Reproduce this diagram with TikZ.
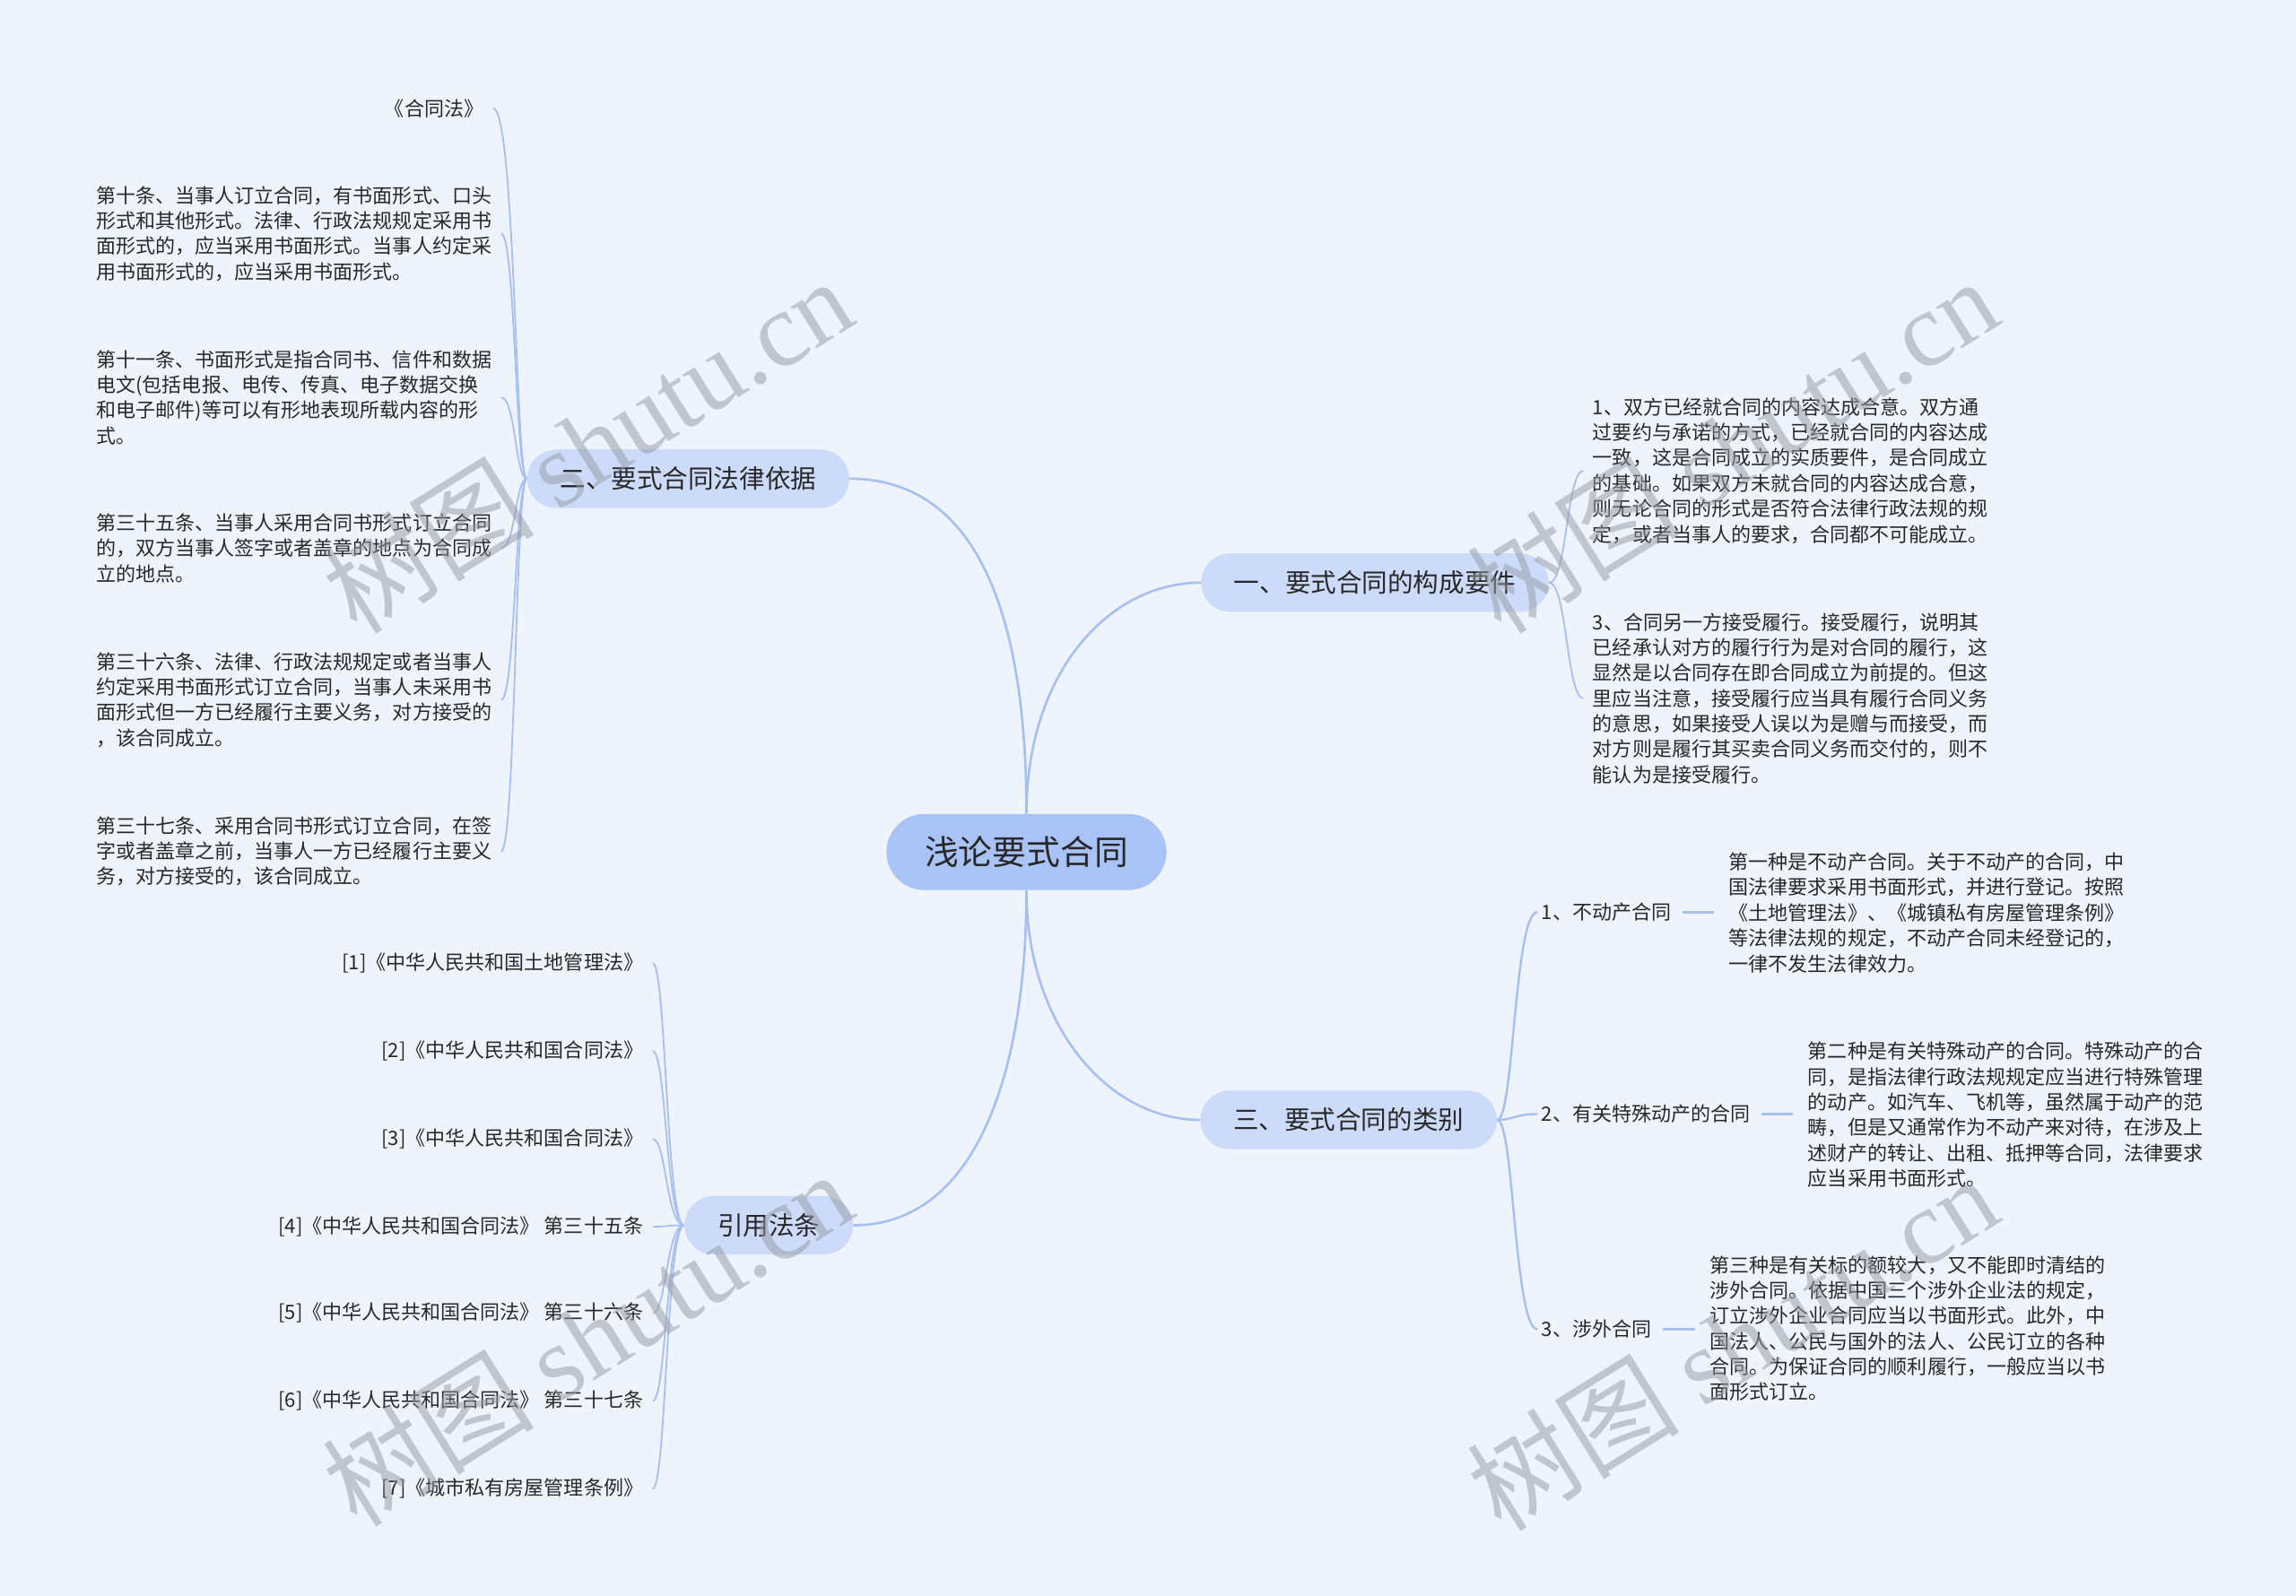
\documentclass[tikz,border=0pt]{standalone}
\usepackage{fontspec}
\setmainfont{Noto Sans CJK SC}
\newfontfamily\wmfont{Liberation Serif}
\definecolor{bgblue}{RGB}{238,243,252}
\definecolor{rootblue}{RGB}{170,195,247}
\definecolor{topicblue}{RGB}{204,219,249}
\definecolor{linkblue}{RGB}{168,192,240}
\definecolor{inkgray}{RGB}{40,40,40}
\definecolor{wmgray}{RGB}{150,154,162}
\begin{document}
\begin{tikzpicture}[x=0.8pt,y=-0.8pt,
    mainlink/.style={draw=linkblue,line width=1.3pt},
    link/.style={draw=linkblue,line width=0.9pt},
    stub/.style={draw=linkblue,line width=1.6pt,shorten <=4pt,shorten >=6pt},
    rootbox/.style={fill=rootblue,rounded corners=20.8pt,minimum height=41.6pt,inner xsep=21pt,text=inkgray,font=\fontsize{18.5}{22}\selectfont},
    topicbox/.style={fill=topicblue,rounded corners=16pt,minimum height=32pt,inner xsep=18pt,text=inkgray,font=\fontsize{14}{17}\selectfont},
    leaf/.style={inner sep=2pt,align=left,text=inkgray,font=\fontsize{10.8}{13.9}\selectfont},
    wmark/.style={rotate=32,text=wmgray,opacity=0.5,font=\fontsize{58}{58}\selectfont}]
    \path[use as bounding box,fill=bgblue] (0,0) rectangle (1568,1090);

    \node[rootbox] (root) at (701,582) {浅论要式合同};
    \node[topicbox] (basis) at (470,327) {二、要式合同法律依据};
    \node[topicbox] (elems) at (939,398) {一、要式合同的构成要件};
    \node[topicbox] (kinds) at (921,765) {三、要式合同的类别};
    \node[topicbox] (cites) at (525,837) {引用法条};

    \draw[mainlink] (root.north) .. controls +(0,-140) and +(85,0) .. (basis.east);
    \draw[mainlink] (root.north) .. controls +(0,-96) and +(-63,0) .. (elems.west);
    \draw[mainlink] (root.south) .. controls +(0,92) and +(-63,0) .. (kinds.west);
    \draw[mainlink] (root.south) .. controls +(0,122) and +(85,0) .. (cites.east);

    \coordinate (bl) at (352,0);
    \node[leaf,anchor=east] (law0) at (333,74) {《合同法》};
    \node[leaf,anchor=west] (law1) at (63,159.5) {第十条、当事人订立合同，有书面形式、口头\\形式和其他形式。法律、行政法规规定采用书\\面形式的，应当采用书面形式。当事人约定采\\用书面形式的，应当采用书面形式。};
    \node[leaf,anchor=west] (law2) at (63,271.5) {第十一条、书面形式是指合同书、信件和数据\\电文(包括电报、电传、传真、电子数据交换\\和电子邮件)等可以有形地表现所载内容的形\\式。};
    \node[leaf,anchor=west] (law3) at (63,374.5) {第三十五条、当事人采用合同书形式订立合同\\的，双方当事人签字或者盖章的地点为合同成\\立的地点。};
    \node[leaf,anchor=west] (law4) at (63,478) {第三十六条、法律、行政法规规定或者当事人\\约定采用书面形式订立合同，当事人未采用书\\面形式但一方已经履行主要义务，对方接受的\\，该合同成立。};
    \node[leaf,anchor=west] (law5) at (63,581.5) {第三十七条、采用合同书形式订立合同，在签\\字或者盖章之前，当事人一方已经履行主要义\\务，对方接受的，该合同成立。};
    \draw[link] (basis.west) .. controls (basis.west -| bl) and (law0.east -| bl) .. ([xshift=3pt]law0.east);
    \draw[link] (basis.west) .. controls (basis.west -| bl) and (law1.east -| bl) .. ([xshift=3pt]law1.east);
    \draw[link] (basis.west) .. controls (basis.west -| bl) and (law2.east -| bl) .. ([xshift=3pt]law2.east);
    \draw[link] (basis.west) .. controls (basis.west -| bl) and (law3.east -| bl) .. ([xshift=3pt]law3.east);
    \draw[link] (basis.west) .. controls (basis.west -| bl) and (law4.east -| bl) .. ([xshift=3pt]law4.east);
    \draw[link] (basis.west) .. controls (basis.west -| bl) and (law5.east -| bl) .. ([xshift=3pt]law5.east);

    \coordinate (br) at (1070,0);
    \node[leaf,anchor=west] (elem1) at (1085,321.5) {1、双方已经就合同的内容达成合意。双方通\\过要约与承诺的方式，已经就合同的内容达成\\一致，这是合同成立的实质要件，是合同成立\\的基础。如果双方未就合同的内容达成合意，\\则无论合同的形式是否符合法律行政法规的规\\定，或者当事人的要求，合同都不可能成立。};
    \node[leaf,anchor=west] (elem3) at (1085,477) {3、合同另一方接受履行。接受履行，说明其\\已经承认对方的履行行为是对合同的履行，这\\显然是以合同存在即合同成立为前提的。但这\\里应当注意，接受履行应当具有履行合同义务\\的意思，如果接受人误以为是赠与而接受，而\\对方则是履行其买卖合同义务而交付的，则不\\能认为是接受履行。};
    \draw[link] (elems.east) .. controls (elems.east -| br) and (elem1.west -| br) .. ([xshift=-3pt]elem1.west);
    \draw[link] (elems.east) .. controls (elems.east -| br) and (elem3.west -| br) .. ([xshift=-3pt]elem3.west);

    \coordinate (bk) at (1034,0);
    \node[leaf,anchor=west] (kind1) at (1050,623) {1、不动产合同};
    \node[leaf,anchor=west] (kind2) at (1050,761) {2、有关特殊动产的合同};
    \node[leaf,anchor=west] (kind3) at (1050,908) {3、涉外合同};
    \node[leaf,anchor=west] (kindtxt1) at (1178,623.5) {第一种是不动产合同。关于不动产的合同，中\\国法律要求采用书面形式，并进行登记。按照\\《土地管理法》、《城镇私有房屋管理条例》\\等法律法规的规定，不动产合同未经登记的，\\一律不发生法律效力。};
    \node[leaf,anchor=west] (kindtxt2) at (1232,761.5) {第二种是有关特殊动产的合同。特殊动产的合\\同，是指法律行政法规规定应当进行特殊管理\\的动产。如汽车、飞机等，虽然属于动产的范\\畴，但是又通常作为不动产来对待，在涉及上\\述财产的转让、出租、抵押等合同，法律要求\\应当采用书面形式。};
    \node[leaf,anchor=west] (kindtxt3) at (1165,907.5) {第三种是有关标的额较大，又不能即时清结的\\涉外合同。依据中国三个涉外企业法的规定，\\订立涉外企业合同应当以书面形式。此外，中\\国法人、公民与国外的法人、公民订立的各种\\合同。为保证合同的顺利履行，一般应当以书\\面形式订立。};
    \draw[link,line width=1.2pt] (kinds.east) .. controls (kinds.east -| bk) and (kind1.west -| bk) .. (kind1.west);
    \draw[link,line width=1.2pt] (kinds.east) .. controls (kinds.east -| bk) and (kind2.west -| bk) .. (kind2.west);
    \draw[link,line width=1.2pt] (kinds.east) .. controls (kinds.east -| bk) and (kind3.west -| bk) .. (kind3.west);
    \draw[stub] (kind1.east) -- (kindtxt1.west |- kind1.east);
    \draw[stub] (kind2.east) -- (kindtxt2.west |- kind2.east);
    \draw[stub] (kind3.east) -- (kindtxt3.west |- kind3.east);

    \coordinate (bc) at (455,0);
    \node[leaf,anchor=east] (cite1) at (442,658) {[1]《中华人民共和国土地管理法》};
    \node[leaf,anchor=east] (cite2) at (442,718) {[2]《中华人民共和国合同法》};
    \node[leaf,anchor=east] (cite3) at (442,778) {[3]《中华人民共和国合同法》};
    \node[leaf,anchor=east] (cite4) at (442,838) {[4]《中华人民共和国合同法》 第三十五条};
    \node[leaf,anchor=east] (cite5) at (442,897) {[5]《中华人民共和国合同法》 第三十六条};
    \node[leaf,anchor=east] (cite6) at (442,957) {[6]《中华人民共和国合同法》 第三十七条};
    \node[leaf,anchor=east] (cite7) at (442,1017) {[7]《城市私有房屋管理条例》};
    \draw[link] (cites.west) .. controls (cites.west -| bc) and (cite1.east -| bc) .. ([xshift=3pt]cite1.east);
    \draw[link] (cites.west) .. controls (cites.west -| bc) and (cite2.east -| bc) .. ([xshift=3pt]cite2.east);
    \draw[link] (cites.west) .. controls (cites.west -| bc) and (cite3.east -| bc) .. ([xshift=3pt]cite3.east);
    \draw[link] (cites.west) .. controls (cites.west -| bc) and (cite4.east -| bc) .. ([xshift=3pt]cite4.east);
    \draw[link] (cites.west) .. controls (cites.west -| bc) and (cite5.east -| bc) .. ([xshift=3pt]cite5.east);
    \draw[link] (cites.west) .. controls (cites.west -| bc) and (cite6.east -| bc) .. ([xshift=3pt]cite6.east);
    \draw[link] (cites.west) .. controls (cites.west -| bc) and (cite7.east -| bc) .. ([xshift=3pt]cite7.east);

    \node[wmark] (wm1) at (401,304) {树图 {\wmfont shutu.cn}};
    \node[wmark] (wm2) at (1183,304) {树图 {\wmfont shutu.cn}};
    \node[wmark] (wm3) at (401,914) {树图 {\wmfont shutu.cn}};
    \node[wmark] (wm4) at (1183,917) {树图 {\wmfont shutu.cn}};
\end{tikzpicture}
\end{document}
